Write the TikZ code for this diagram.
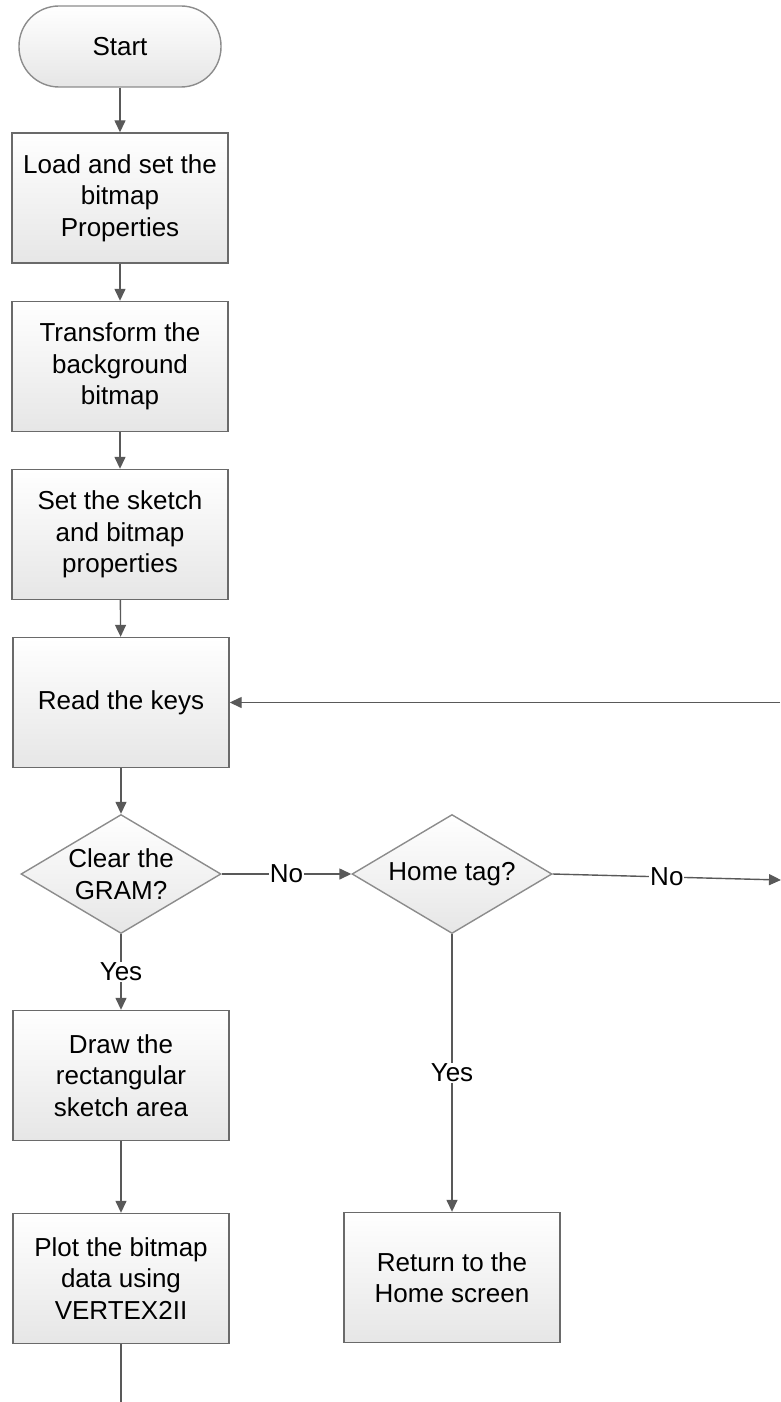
\documentclass[tikz,border=0pt]{standalone}
\usepackage{fontspec}
\setmainfont{Liberation Sans}
\usepackage{xcolor}
\usetikzlibrary{shapes.geometric,arrows.meta,positioning}
\definecolor{borde}{HTML}{6A6A6A}
\definecolor{bordeclaro}{HTML}{8C8C8C}
\definecolor{flecha}{HTML}{595959}
\definecolor{fondo}{HTML}{E6E6E6}
\tikzstyle{paso}=[draw=borde, line width=1.4pt, top color=white,
  bottom color=fondo, align=center, minimum width=216pt,
  minimum height=130pt, inner sep=0pt,
  font=\fontsize{26}{31.5}\selectfont]
\tikzstyle{inicio}=[paso, draw=bordeclaro, minimum width=202pt,
  minimum height=81pt, rounded corners=40pt]
\tikzstyle{decision}=[paso, diamond, draw=bordeclaro, aspect=1.68,
  minimum width=200pt, minimum height=119pt]
\tikzstyle{line}=[draw=flecha, line width=1.4pt,
  -{Triangle[width=11pt,length=12pt]}]
\tikzstyle{linea}=[draw=flecha, line width=1.4pt]
\tikzstyle{etiqueta}=[fill=white, inner sep=1pt,
  font=\fontsize{26}{31.5}\selectfont]
\newcommand{\paso}[2]{node (p#1) [paso] {#2}}

\begin{document}
\begin{tikzpicture}[x=1pt,y=1pt]
  \useasboundingbox (0,0) rectangle (780,-1402);

  % Draw diagram elements
\path (120,-46.5) node (p0)[inicio] {Start};
\path (p0)+(0,-151.5) \paso{1}{Load and set the\\bitmap\\Properties};
\path (p1)+(0,-168.5) \paso{2}{Transform the\\background\\bitmap};
\path (p2)+(0,-168) \paso{3}{Set the sketch\\and bitmap\\properties};
\path (p3)+(1,-168) \paso{4}{Read the keys};
\path (p4)+(0,-171.5) node (d1)[decision] {Clear the\\GRAM?};
\path (d1)+(331,0) node (d2)[decision] {Home tag?};
\path (d1)+(0,-201.5) \paso{5}{Draw the\\rectangular\\sketch area};
\path (p5)+(0,-203) \paso{6}{Plot the bitmap\\data using\\VERTEX2II};
\path (d2)+(0,-403.5) \paso{7}{Return to the\\Home screen};

\coordinate (r1) at (780,-702.5);
\coordinate (r2) at (781,-880);
\coordinate (r3) at (p6.south |- 0,-1402);

  % Draw arrows between elements
\path [line] (p0) -- (p1);
\path [line] (p1) -- (p2);
\path [line] (p2) -- (p3);
\path [line] (p3) -- (p4);
\path [line] (p4) -- (d1);
\path [line] (d1) -- node [etiqueta, midway] {No} (d2);
\path [line] (d1) -- node [etiqueta, midway] {Yes} (p5);
\path [line] (p5) -- (p6);
\path [line] (d2) -- node [etiqueta, midway] {Yes} (p7);
\path [line] (d2.east) -- node [etiqueta, midway] {No} (r2);
\path [line] (r1) -- (p4.east);
\path [linea] (p6) -- (r3);
\end{tikzpicture}
\end{document}
